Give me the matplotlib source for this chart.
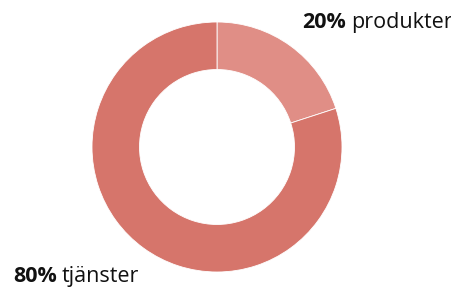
import matplotlib.pyplot as plt

plt.rcParams['font.family'] = ['Open Sans', 'DejaVu Sans']

# data
labels = ['produkter', 'tjänster']
values = [20, 80]
colors = ['#E08E86', '#D6756B']

W, H = 452, 288
fig = plt.figure(figsize=(W / 100, H / 100), dpi=100)
ax = fig.add_axes([0, 0, 1, 1])

# ring, center/radius in pixels
cx, cy, r = 217, H - 147, 125
ax.pie(values, colors=colors, startangle=90, counterclock=False,
       center=(cx, cy), radius=r, frame=True,
       wedgeprops=dict(width=r * 0.38, linewidth=0.6, edgecolor='white'))
ax.set_xlim(0, W)
ax.set_ylim(0, H)
ax.axis('off')

def label(x, y, pct, name):
    t = ax.text(x, y, f'{pct}%', fontsize=15.5, fontweight='bold',
                ha='left', va='baseline', color='#111111')
    fig.canvas.draw()
    bb = t.get_window_extent()
    x2 = ax.transData.inverted().transform((bb.x1, 0))[0]
    ax.text(x2 + 5, y, name, fontsize=15.5, ha='left', va='baseline',
            color='#111111')

label(302, H - 28, values[0], labels[0])
label(13, H - 282, values[1], labels[1])

fig.savefig('out.png', dpi=100)
